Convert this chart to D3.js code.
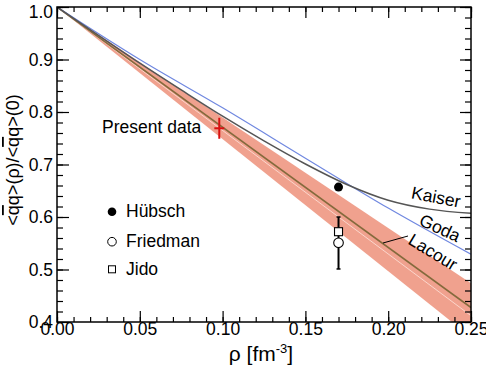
<!DOCTYPE html>
<html><head><meta charset="utf-8">
<script src="https://cdn.jsdelivr.net/npm/d3@7/dist/d3.min.js"></script>
<style>
html,body{margin:0;padding:0;background:#fff;}
svg{display:block;font-family:"Liberation Sans",Arial,Helvetica,sans-serif;}
</style></head>
<body>
<svg id="c" width="486" height="368"></svg>
<script>
// ---- data ----
const xTicks = [0.00, 0.05, 0.10, 0.15, 0.20, 0.25];
const yTicks = [0.4, 0.5, 0.6, 0.7, 0.8, 0.9, 1.0];
const bandRho   = [0.00, 0.25];
const bandUpper = [1.00, 0.474];
const bandLower = [1.00, 0.371];
const lacourRho = [0.00, 0.25];
const lacourVal = [1.00, 0.4275];
const paleVal   = [1.00, 0.412];
const godaRho = [0.00, 0.05, 0.10, 0.15, 0.20, 0.25];
const godaVal = [1.00, 0.900, 0.808, 0.712, 0.617, 0.529];
const kaiserRho = [0.000, 0.025, 0.050, 0.075, 0.100, 0.125, 0.150, 0.175, 0.200, 0.225, 0.250];
const kaiserVal = [1.000, 0.946, 0.893, 0.842, 0.792, 0.745, 0.701, 0.662, 0.632, 0.615, 0.607];
const presentRho = 0.098, presentVal = 0.769, presentErrY = 0.020, presentErrX = 0.003;
const huebsch  = {rho: 0.170, val: 0.657};
const friedman = {rho: 0.170, val: 0.551, lo: 0.501, hi: 0.600};
const jido     = {rho: 0.170, val: 0.572};
const legendNames = ["Hübsch", "Friedman", "Jido"];

// ---- layout ----
const L = 57, R = 471, T = 7, B = 322;
const x = d3.scaleLinear().domain([0, 0.25]).range([L, R]);
const y = d3.scaleLinear().domain([0.4, 1.0]).range([B, T]);
const svg = d3.select("#c");

svg.append("defs").append("clipPath").attr("id", "clip")
  .append("rect").attr("x", L).attr("y", T).attr("width", R - L).attr("height", B - T);
const g = svg.append("g").attr("clip-path", "url(#clip)");

// band
const bandData = bandRho.map((r, i) => ({r, u: bandUpper[i], l: bandLower[i]}));
g.append("path").datum(bandData)
  .attr("d", d3.area().x(d => x(d.r)).y0(d => y(d.l)).y1(d => y(d.u)))
  .attr("fill", "#f0a18e");
const line = d3.line().x(d => x(d[0])).y(d => y(d[1]));
g.append("path").datum(lacourRho.map((r, i) => [r, paleVal[i]]))
  .attr("d", line).attr("fill", "none").attr("stroke", "#fbd6cc").attr("stroke-width", 1);
g.append("path").datum(lacourRho.map((r, i) => [r, lacourVal[i]]))
  .attr("d", line).attr("fill", "none").attr("stroke", "#846a3c").attr("stroke-width", 1.6);
g.append("path").datum(godaRho.map((r, i) => [r, godaVal[i]]))
  .attr("d", d3.line().curve(d3.curveMonotoneX).x(d => x(d[0])).y(d => y(d[1])))
  .attr("fill", "none").attr("stroke", "#7088e0").attr("stroke-width", 1.2);
g.append("path").datum(kaiserRho.map((r, i) => [r, kaiserVal[i]]))
  .attr("d", d3.line().curve(d3.curveMonotoneX).x(d => x(d[0])).y(d => y(d[1])))
  .attr("fill", "none").attr("stroke", "#555").attr("stroke-width", 1.5);

// present data
g.append("line").attr("x1", x(presentRho)).attr("x2", x(presentRho))
  .attr("y1", y(presentVal - presentErrY)).attr("y2", y(presentVal + presentErrY))
  .attr("stroke", "#d81010").attr("stroke-width", 2);
g.append("line").attr("x1", x(presentRho - presentErrX)).attr("x2", x(presentRho + presentErrX))
  .attr("y1", y(presentVal)).attr("y2", y(presentVal))
  .attr("stroke", "#d81010").attr("stroke-width", 2);

// friedman error bar
const fx = x(friedman.rho);
g.append("line").attr("x1", fx).attr("x2", fx).attr("y1", y(friedman.lo)).attr("y2", y(friedman.hi))
  .attr("stroke", "#000").attr("stroke-width", 2);
[friedman.lo, friedman.hi].forEach(v => g.append("line").attr("x1", fx - 2).attr("x2", fx + 2)
  .attr("y1", y(v)).attr("y2", y(v)).attr("stroke", "#000").attr("stroke-width", 1.5));
g.append("rect").attr("x", x(jido.rho) - 4).attr("y", y(jido.val) - 4).attr("width", 8).attr("height", 8)
  .attr("fill", "#fff").attr("stroke", "#000").attr("stroke-width", 1.1);
g.append("circle").attr("cx", x(friedman.rho)).attr("cy", y(friedman.val)).attr("r", 4.8)
  .attr("fill", "#fff").attr("stroke", "#000").attr("stroke-width", 1.1);
g.append("circle").attr("cx", x(huebsch.rho)).attr("cy", y(huebsch.val)).attr("r", 4.5)
  .attr("fill", "#000");

// axes
const xMinor = d3.range(0, 26).map(i => i / 100);
const yMinor = d3.range(20, 51).map(i => i / 50);
function ax(gen, tr, size, vals, fmt, pad) {
  const a = svg.append("g").attr("transform", tr)
    .call(gen.tickValues(vals).tickSize(size).tickPadding(pad).tickFormat(fmt));
  a.select(".domain").remove();
  a.selectAll("line").attr("stroke", "#000").attr("stroke-width", 1.2);
  a.selectAll("text").attr("font-size", 17.5).attr("fill", "#000")
   .attr("font-family", '"Liberation Sans",Arial,sans-serif');
  return a;
}
const f2 = d3.format(".2f"), f1 = d3.format(".1f");
ax(d3.axisBottom(x), `translate(0,${B})`, -5, xMinor, "", 3);
ax(d3.axisTop(x), `translate(0,${T})`, -5, xMinor, "", 3);
ax(d3.axisLeft(y), `translate(${L},0)`, -6, yMinor, "", 3);
ax(d3.axisRight(y), `translate(${R},0)`, -6, yMinor, "", 3);
const xb = ax(d3.axisBottom(x), `translate(0,${B})`, -11, xTicks, f2, 4);
xb.selectAll("text").attr("dy", "0.5em");
ax(d3.axisTop(x), `translate(0,${T})`, -11, xTicks, "", 3);
const yl = ax(d3.axisLeft(y), `translate(${L},0)`, -12, yTicks, f1, 4);
yl.selectAll("text").filter(d => d === 1.0).attr("dy", "0.62em");
ax(d3.axisRight(y), `translate(${R},0)`, -11, yTicks, "", 3);

svg.append("rect").attr("x", L).attr("y", T).attr("width", R - L).attr("height", B - T)
  .attr("fill", "none").attr("stroke", "#000").attr("stroke-width", 1.5);

// labels
svg.append("text").attr("x", 102).attr("y", 133).attr("font-size", 17.5).text("Present data");
function rot(txt, cx, cy, ang) {
  svg.append("text").attr("transform", `translate(${cx},${cy}) rotate(${ang})`)
    .attr("text-anchor", "middle").attr("dominant-baseline", "central")
    .attr("font-size", 17.5).text(txt);
}
rot("Kaiser", 436, 197, 11);
rot("Goda", 440, 228, 25);
rot("Lacour", 433, 252, 31);
svg.append("line").attr("x1", 383).attr("y1", 243).attr("x2", 408).attr("y2", 236)
  .attr("stroke", "#000").attr("stroke-width", 1);

// legend
const ly = [211.7, 241.7, 269.3];
svg.append("circle").attr("cx", 112).attr("cy", ly[0]).attr("r", 4.3).attr("fill", "#000");
svg.append("circle").attr("cx", 112).attr("cy", ly[1]).attr("r", 4.3).attr("fill", "#fff").attr("stroke", "#000");
svg.append("rect").attr("x", 108.5).attr("y", ly[2] - 3.5).attr("width", 7).attr("height", 7).attr("fill", "#fff").attr("stroke", "#000");
legendNames.forEach((n, i) => svg.append("text").attr("x", 126).attr("y", ly[i] + 5.5).attr("font-size", 17.5).text(n));

// axis titles
const yt = svg.append("text").attr("transform", "translate(19,160) rotate(-90)")
  .attr("text-anchor", "middle").attr("font-size", 18);
yt.append("tspan").text("<");
yt.append("tspan").attr("text-decoration", "overline").text("q");
yt.append("tspan").text("q>(ρ)/<");
yt.append("tspan").attr("text-decoration", "overline").text("q");
yt.append("tspan").text("q>(0)");
const xt = svg.append("text").attr("x", 261).attr("y", 361).attr("text-anchor", "middle").attr("font-size", 21);
xt.append("tspan").text("ρ [fm");
xt.append("tspan").attr("font-size", 13).attr("dy", -8).text("-3");
xt.append("tspan").attr("dy", 8).text("]");
</script>
</body></html>
